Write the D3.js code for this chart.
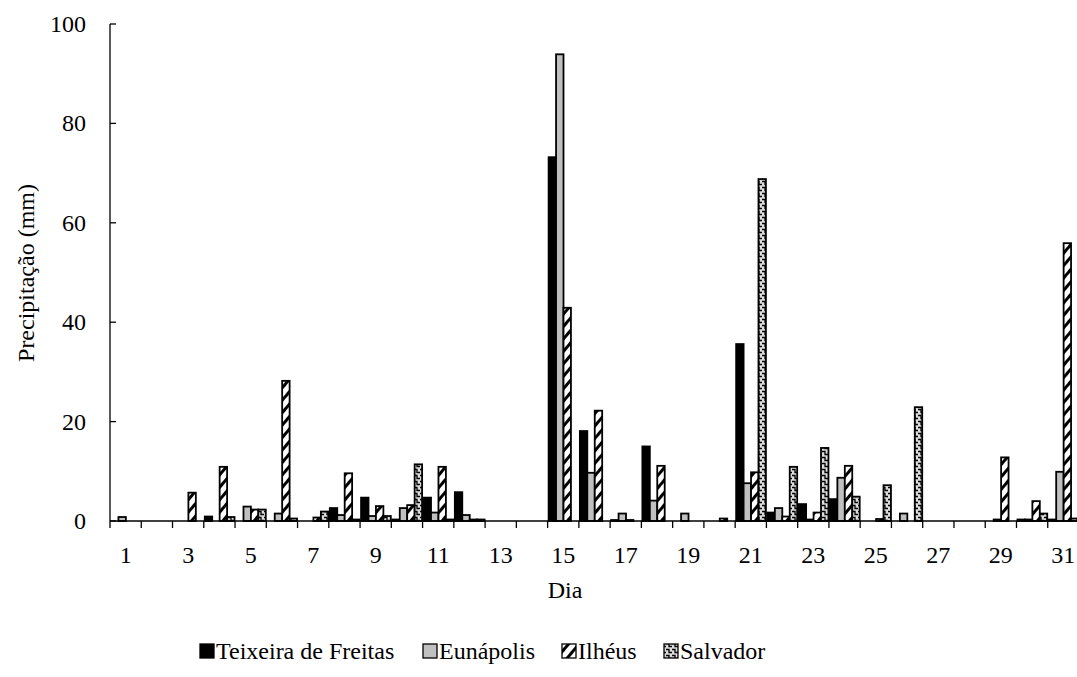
<!DOCTYPE html>
<html><head><meta charset="utf-8">
<script src="https://cdn.jsdelivr.net/npm/d3@7"></script>
<style>
html,body{margin:0;padding:0;background:#fff;}
svg{display:block;}
</style></head>
<body>
<svg id="c" width="1077" height="677" font-family="'Liberation Serif', 'Times New Roman', Times, 'DejaVu Serif', serif"></svg>
<script>
const days = [1,2,3,4,5,6,7,8,9,10,11,12,13,14,15,16,17,18,19,20,21,22,23,24,25,26,27,28,29,30,31];
const seriesNames = ["Teixeira de Freitas","Eunápolis","Ilhéus","Salvador"];
const teixeira = [0,0,0,0.9,0,0,0,2.6,4.7,0.3,4.7,5.8,0,0,73.2,18.1,0.2,15.0,0,0,35.6,1.7,3.4,4.4,0,0,0,0,0,0.3,0.3];
const eunapolis = [0.8,0,0,0,2.9,1.5,0,1.2,1.0,2.6,1.7,1.2,0,0,93.9,9.7,1.5,4.1,1.5,0,7.6,2.6,0.3,8.7,0,1.5,0,0,0.3,0.3,9.9];
const ilheus = [0,0,5.7,10.9,2.3,28.2,0.7,9.6,3.0,3.2,10.9,0.3,0,0,42.9,22.2,0.2,11.1,0,0.5,9.8,0.9,1.7,11.1,0.4,0,0,0,12.8,4.0,55.9];
const salvador = [0,0,0,0.8,2.3,0.5,1.9,0.3,1.0,11.4,0.3,0.3,0,0,0,0,0,0,0,0,68.8,10.9,14.7,4.9,7.2,22.9,0,0,0,1.5,0.5];
const yTicks = [0,20,40,60,80,100];
const xTickLabels = [1,3,5,7,9,11,13,15,17,19,21,23,25,27,29,31];

const FONT = "'Liberation Serif', 'Times New Roman', Times, 'DejaVu Serif', serif";
const FS = 24;
const svg = d3.select("#c");
const defs = svg.append("defs");
// Ilhéus: wide diagonal stripes
const p1 = defs.append("pattern").attr("id","hatch").attr("patternUnits","userSpaceOnUse")
  .attr("width",8).attr("height",8).attr("patternTransform","rotate(40)");
p1.append("rect").attr("width",8).attr("height",8).attr("fill","#fff");
p1.append("rect").attr("width",3).attr("height",8).attr("fill","#000");
// Salvador: wave / zigzag
const p2 = defs.append("pattern").attr("id","wave").attr("patternUnits","userSpaceOnUse")
  .attr("width",6).attr("height",6);
p2.append("rect").attr("width",6).attr("height",6).attr("fill","#dcdcdc");
p2.append("path").attr("d","M0,1.5 H3 V4.5 H6").attr("fill","none").attr("stroke","#000").attr("stroke-width",1.3);

const fills = ["#000","#c0c0c0","url(#hatch)","url(#wave)"];
const seriesData = [teixeira, eunapolis, ilheus, salvador];

const x0 = 110, x1 = 1079, yTop = 24, yBot = 521;
const x = d3.scaleBand().domain(days).range([x0,x1]).paddingInner(0).paddingOuter(0);
const xs = d3.scaleBand().domain(d3.range(4)).range([1, x.bandwidth()-0.5]).padding(0);
const y = d3.scaleLinear().domain([0,100]).range([yBot,yTop]);

// bars
const g = svg.append("g");
seriesData.forEach((arr,si)=>{
  g.selectAll(null).data(days.map((d,i)=>({d,v:arr[i]})).filter(o=>o.v>0))
    .enter().append("rect")
    .attr("x",o=>x(o.d)+xs(si))
    .attr("y",o=>y(o.v))
    .attr("width",xs.bandwidth())
    .attr("height",o=>y(0)-y(o.v))
    .attr("fill",fills[si])
    .attr("stroke","#000").attr("stroke-width",1.8);
});

function txt(sel){ return sel.attr("font-family",FONT).attr("fill","#000"); }

// y axis
const ya = svg.append("g");
ya.append("line").attr("x1",x0).attr("x2",x0).attr("y1",y(100)).attr("y2",y(0)).attr("stroke","#000").attr("stroke-width",1.3);
ya.selectAll(null).data(yTicks).enter().append("line")
  .attr("x1",x0).attr("x2",x0+6).attr("y1",d=>y(d)).attr("y2",d=>y(d)).attr("stroke","#000").attr("stroke-width",1.3);
txt(ya.selectAll(null).data(yTicks).enter().append("text"))
  .attr("x",86).attr("y",d=>y(d)).attr("dy","0.33em").attr("text-anchor","end")
  .attr("font-size",FS).text(d=>d);

// x axis
const xa = svg.append("g");
xa.append("line").attr("x1",x0).attr("x2",x1).attr("y1",yBot).attr("y2",yBot).attr("stroke","#000").attr("stroke-width",1.3);
xa.selectAll(null).data(days.concat([32])).enter().append("line")
  .attr("x1",d=> d===32 ? x1 : x(d)).attr("x2",d=> d===32 ? x1 : x(d))
  .attr("y1",yBot).attr("y2",yBot+7).attr("stroke","#000").attr("stroke-width",1.3);
txt(xa.selectAll(null).data(xTickLabels).enter().append("text"))
  .attr("x",d=>x(d)+x.bandwidth()/2).attr("y",555).attr("dy","0.33em").attr("text-anchor","middle")
  .attr("font-size",FS).text(d=>d);

// axis titles
txt(svg.append("text")).attr("x",565).attr("y",598).attr("text-anchor","middle").attr("font-size",FS).text("Dia");
txt(svg.append("text")).attr("transform","translate(34,273) rotate(-90)").attr("text-anchor","middle")
  .attr("font-size",FS).text("Precipitação (mm)");

// legend
const legX = [200,423,562,664];
const leg = svg.append("g");
seriesNames.forEach((n,i)=>{
  leg.append("rect").attr("x",legX[i]).attr("y",644).attr("width",14).attr("height",14)
    .attr("fill",fills[i]).attr("stroke","#000").attr("stroke-width",1.3);
  txt(leg.append("text")).attr("x",legX[i]+16).attr("y",651).attr("dy","0.33em").attr("font-size",FS).text(n);
});
</script>
</body></html>
